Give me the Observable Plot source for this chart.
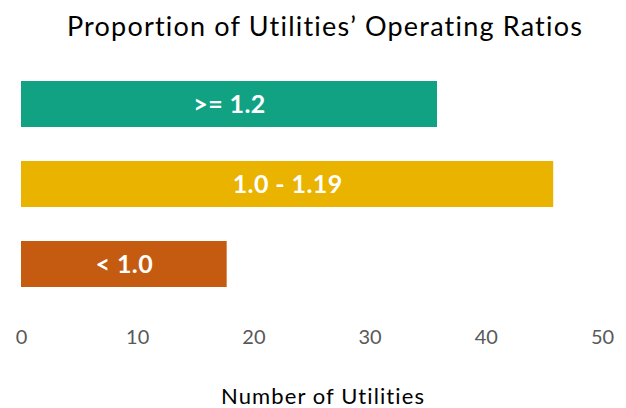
<!DOCTYPE html>
<html>
<head>
<meta charset="utf-8">
<script src="https://cdn.jsdelivr.net/npm/d3@7"></script>
<script src="https://cdn.jsdelivr.net/npm/@observablehq/plot@0.6"></script>
<style>
  html, body { margin: 0; padding: 0; background: #fff; }
  #title { width: 626px; height: 51px; line-height: 51px; text-align: center; position: relative; left: 12px;
           font-family: Lato, "Open Sans", sans-serif; font-size: 27px; letter-spacing: 1.2px; color: #000; white-space: nowrap; }
  svg { display: block; }
</style>
</head>
<body>
<div id="title">Proportion of Utilities’ Operating Ratios</div>
<div id="chart"></div>
<script>
const categories = [">= 1.2", "1.0 - 1.19", "< 1.0"];
const counts = [35.8, 45.8, 17.7];
const colors = ["#10A283", "#EAB300", "#C55B10"];
const xTicks = [0, 10, 20, 30, 40, 50];
const xLabel = "Number of Utilities";

const data = categories.map((c, i) => ({category: c, value: counts[i], color: colors[i]}));

const chart = Plot.plot({
  width: 626,
  height: 357,
  marginLeft: 21,
  marginRight: 24,
  marginTop: 30,
  marginBottom: 121,
  style: {fontFamily: "Lato, 'Open Sans', sans-serif", background: "#fff"},
  x: {domain: [0, 50], ticks: xTicks},
  y: {domain: categories, paddingInner: 0.425, paddingOuter: 0, axis: null},
  marks: [
    Plot.barX(data, {y: "category", x: "value", fill: "color"}),
    Plot.text(data, {
      y: "category", x: d => d.value / 2, text: "category",
      fill: "#fff", fontSize: 25, fontWeight: "bold", textAnchor: "middle"
    }),
    Plot.axisX({
      ticks: xTicks, tickSize: 0, tickPadding: 42, fontSize: 20,
      color: "#595959", label: null
    }),
    Plot.text([xLabel], {
      frameAnchor: "bottom", dy: 116, dx: 11, lineAnchor: "bottom",
      fontSize: 22, fill: "#000"
    })
  ]
});
d3.select(chart).selectAll("text").each(function() {
  const t = this.textContent;
  if (t === xLabel) this.style.letterSpacing = "1.1px";
  else if (categories.includes(t)) this.style.letterSpacing = "0.4px";
});
document.getElementById("chart").appendChild(chart);
</script>
</body>
</html>
